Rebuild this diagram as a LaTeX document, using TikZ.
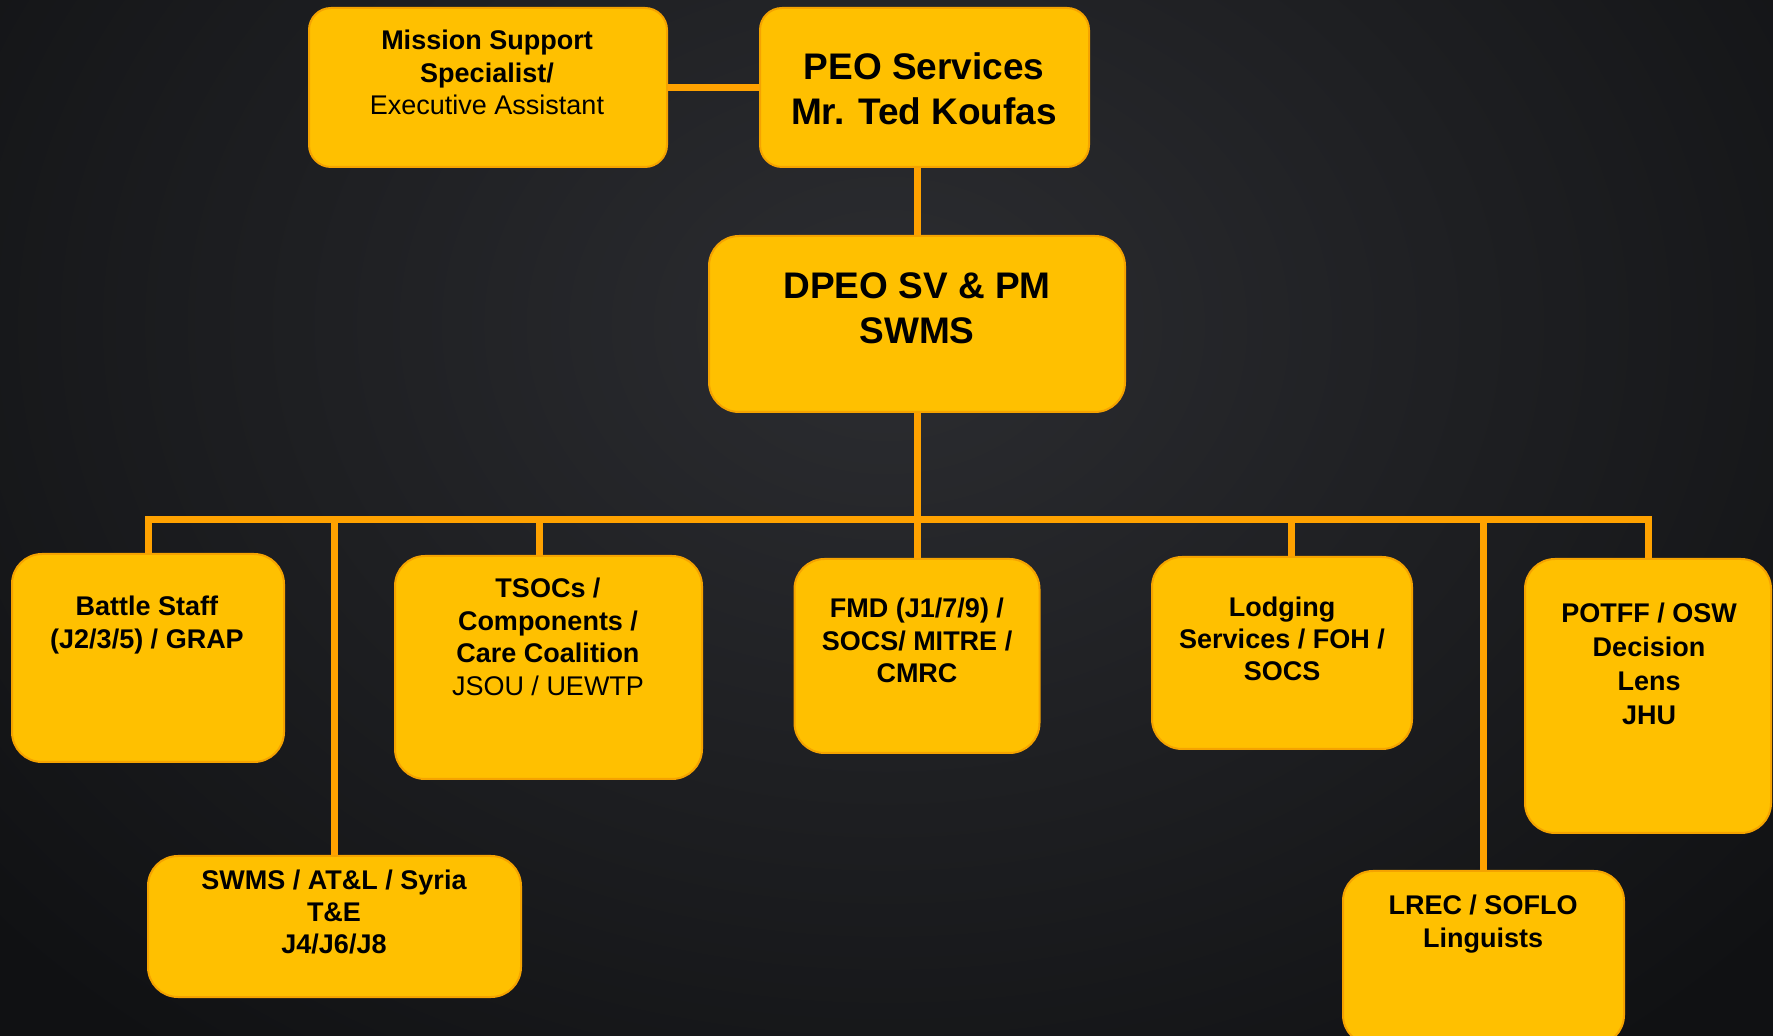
\documentclass[tikz,border=0pt]{standalone}
\usepackage{fontspec}
\setmainfont{Liberation Sans}
\definecolor{boxfill}{HTML}{FFC000}
\definecolor{boxedge}{HTML}{F5A300}
\definecolor{wirec}{HTML}{FFA200}
\definecolor{bgin}{HTML}{2C2D31}
\definecolor{bgout}{HTML}{101113}
\begin{document}
\begin{tikzpicture}[x=0.5pt,y=-0.5pt,
  box/.style={draw=boxedge, line width=1pt, fill=boxfill, rounded corners=15pt, inner sep=0pt},
  topbox/.style={box, rounded corners=11pt},
  wire/.style={draw=wirec, line width=3.5pt},
  small/.style={align=center, text=black, inner sep=0pt, font=\fontsize{13.5pt}{16.3pt}\selectfont},
  big/.style={align=center, text=black, inner sep=0pt, font=\fontsize{18.5pt}{22.3pt}\selectfont\bfseries}]
\useasboundingbox (0,0) rectangle (1773,1036);
\shade[inner color=bgin, outer color=bgout] (-300,-600) rectangle (2073,1250);
% boxes
\node[topbox, minimum width=179pt, minimum height=79.5pt] (ms) at (488,87.5) {};
\node[topbox, minimum width=164.5pt, minimum height=79.5pt] (peo) at (924.5,87.5) {};
\node[box, minimum width=208pt, minimum height=88pt] (dpeo) at (917,324) {};
\node[box, minimum width=136pt, minimum height=104pt] (bs) at (148,658) {};
\node[box, minimum width=153.5pt, minimum height=111.5pt] (ts) at (548.5,667.5) {};
\node[box, minimum width=122.5pt, minimum height=97pt] (fmd) at (917,656) {};
\node[box, minimum width=130pt, minimum height=96pt] (lod) at (1282,653) {};
\node[box, minimum width=123pt, minimum height=137pt] (pot) at (1648,696) {};
\node[box, minimum width=186.5pt, minimum height=70.5pt] (sw) at (334.5,926.5) {};
\node[box, minimum width=140.5pt, minimum height=87pt] (lr) at (1483.5,958) {};
% connectors
\coordinate (bus) at (917,520);
\coordinate (tsj) at (539,520);
\coordinate (lodj) at (1291,520);
\draw[wire] (ms.east) -- (peo.west);
\draw[wire] (dpeo.north) -- (dpeo.north |- peo.south);
\draw[wire] (bs.north) |- (bus) -| (pot.north);
\draw[wire] (dpeo.south) -- (fmd.north);
\draw[wire] (sw.north) -- (sw.north |- bus);
\draw[wire] (tsj) -- (tsj |- ts.north);
\draw[wire] (lodj) -- (lodj |- lod.north);
\draw[wire] (lr.north) -- (lr.north |- bus);
% texts
\node[small] (mst) at (487,72.5) {\textbf{Mission Support}\\\textbf{Specialist/}\\Executive Assistant};
\node[big] (peot) at (924,89) {PEO Services\\Mr. Ted Koufas};
\node[big] (dpeot) at (917,308.5) {DPEO SV \& PM\\SWMS};
\node[small, font=\fontsize{13.5pt}{16.5pt}\selectfont\bfseries] (bst) at (147,625.5) {Battle Staff\\(J2/3/5) / GRAP};
\node[small] (tst) at (548,637) {\textbf{TSOCs /}\\\textbf{Components /}\\\textbf{Care Coalition}\\JSOU / UEWTP};
\node[small, font=\fontsize{13.5pt}{16.3pt}\selectfont\bfseries] (fmdt) at (917,640.5) {FMD (J1/7/9) /\\SOCS/ MITRE /\\CMRC};
\node[small, font=\fontsize{13.5pt}{16pt}\selectfont\bfseries] (lodt) at (1282,638.5) {Lodging\\Services / FOH /\\SOCS};
\node[small, font=\fontsize{13.5pt}{17pt}\selectfont\bfseries] (pott) at (1649,664) {POTFF / OSW\\Decision\\Lens\\JHU};
\node[small, font=\fontsize{13.5pt}{16pt}\selectfont\bfseries] (swt) at (334,912) {SWMS / AT\&L / Syria\\T\&E\\J4/J6/J8};
\node[small, font=\fontsize{13.5pt}{16.5pt}\selectfont\bfseries] (lrt) at (1483,924.5) {LREC / SOFLO\\Linguists};
\end{tikzpicture}
\end{document}
